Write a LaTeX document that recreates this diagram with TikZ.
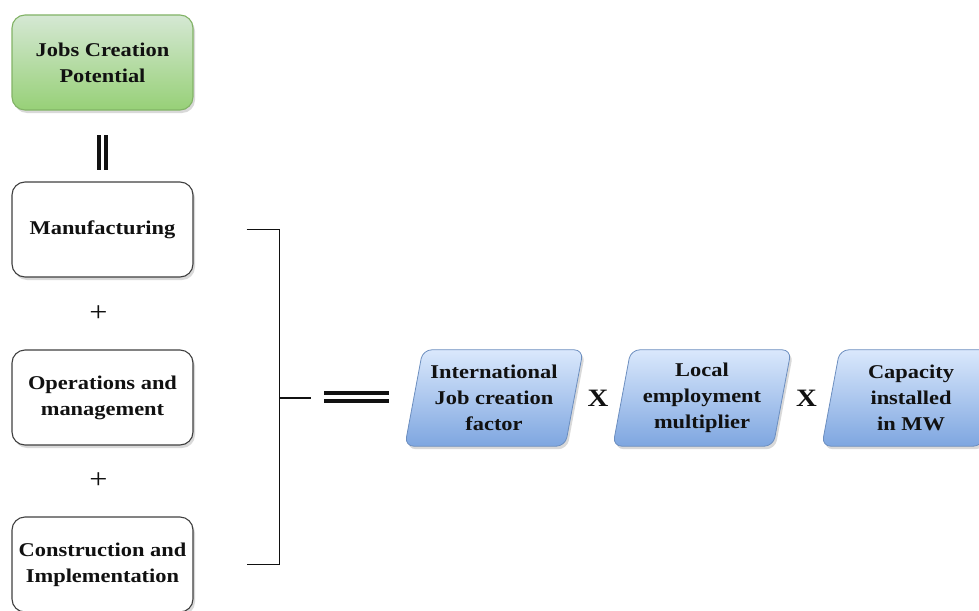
\documentclass[tikz,border=0pt]{standalone}
\usepackage{fontspec}
\setmainfont{Liberation Serif}[FakeStretch=1.15]
\usetikzlibrary{shadows,backgrounds,calc}

\definecolor{greentop}{HTML}{D5E8D4}
\definecolor{greenbot}{HTML}{97D077}
\definecolor{greenline}{HTML}{82B366}
\definecolor{bluetop}{HTML}{DAE8FC}
\definecolor{bluebot}{HTML}{7EA6E0}
\definecolor{blueline}{HTML}{6C8EBF}
\definecolor{ink}{HTML}{111111}

\newcommand{\boxfont}{\bfseries\fontsize{19.5}{26}\selectfont}

\tikzset{
  softshadow/.style={drop shadow={shadow xshift=2pt, shadow yshift=-3pt, opacity=0.25, fill=black!60}},
  termbox/.style={draw=black!75, line width=1.1pt, rounded corners=13pt,
    minimum width=181pt, minimum height=95pt, inner sep=0pt, align=center,
    fill=white, text=ink, font=\boxfont, softshadow},
  goalbox/.style={termbox, draw=greenline, top color=greentop, bottom color=greenbot},
  factor/.style={minimum width=160pt, minimum height=96pt, inner sep=0pt,
    align=center, text=ink, font=\boxfont},
  factorshape/.style={draw=blueline, line width=0.8pt, rounded corners=9pt,
    top color=bluetop, bottom color=bluebot, softshadow},
  opsign/.style={text=ink, inner sep=0pt},
  bracket/.style={draw=ink, line width=1.8pt},
  bar/.style={draw=ink, line width=4pt},
}

\begin{document}
\begin{tikzpicture}[x=1pt, y=-1pt]
  \useasboundingbox (0,0) rectangle (979,610);

  % left column: goal and the three job categories
  \node[goalbox] (goal) at (102.5,62.5) {Jobs Creation\\Potential};
  \node[termbox] (manu) at (102.5,229.5) {Manufacturing};
  \node[termbox] (ops)  at (102.5,397.5) {Operations and\\management};
  \node[termbox] (cons) at (102.5,564.5) {Construction and\\Implementation};

  \node[opsign, font=\fontsize{28}{28}\selectfont, xshift=-4pt] (plus1) at ($(manu.south)!0.5!(ops.north)$) {+};
  \node[opsign, font=\fontsize{28}{28}\selectfont, xshift=-4pt] (plus2) at ($(ops.south)!0.5!(cons.north)$) {+};

  % equality sign between goal and categories
  \draw[bar] (99,135) -- (99,170);
  \draw[bar] (106,135) -- (106,170);

  % bracket collecting the three categories
  \coordinate (btop) at ([xshift=53pt]manu.east);
  \coordinate (bbot) at ([xshift=53pt]cons.east);
  \coordinate (bmid) at (279,398);
  \coordinate (btip) at (311,398);
  \draw[bracket] (btop) -- ++(33,0) |- (bbot);
  \draw[bracket] (bmid) -- (btip);

  % equals sign
  \draw[bar] (324,393) -- (389,393);
  \draw[bar] (324,401) -- (389,401);

  % product of factors
  \node[factor] (f1) at (494,398) {International\\Job creation\\factor};
  \node[factor] (f2) at (702,398) {Local\\employment\\multiplier};
  \node[factor] (f3) at (911,398) {Capacity\\installed\\in MW};

  \node[opsign, font=\bfseries\fontsize{25}{25}\selectfont] (x1) at ($(f1.east)!0.5!(f2.west)$) {X};
  \node[opsign, font=\bfseries\fontsize{25}{25}\selectfont] (x2) at ($(f2.east)!0.5!(f3.west)$) {X};

  \begin{scope}[on background layer]
    \foreach \n in {f1,f2,f3}
      \path[factorshape] ([xshift=-9pt]\n.south west) -- ([xshift=9pt]\n.north west)
        -- ([xshift=9pt]\n.north east) -- ([xshift=-9pt]\n.south east) -- cycle;
  \end{scope}
\end{tikzpicture}
\end{document}
